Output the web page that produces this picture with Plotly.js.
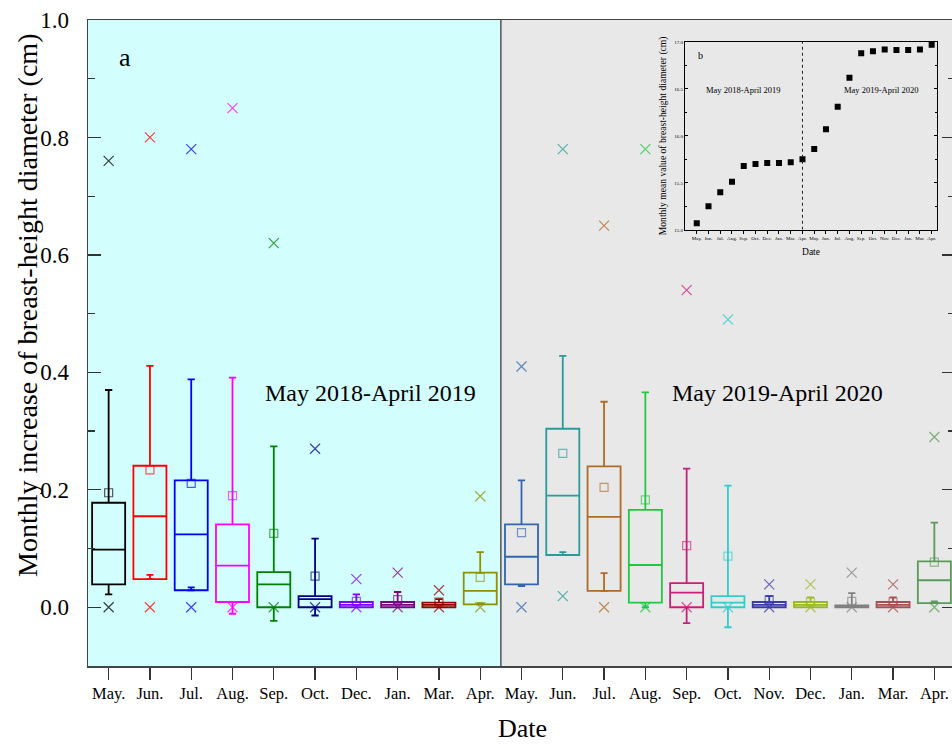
<!DOCTYPE html>
<html>
<head>
<meta charset="utf-8">
<script src="https://cdn.plot.ly/plotly-3.0.1.min.js"></script>
<style>
html, body { margin: 0; padding: 0; overflow: hidden; background: #fff; }
#chart { width: 960px; height: 746px; }
</style>
</head>
<body>
<div id="chart"></div>
<script>
// ---- data ----
var labels = ['May.','Jun.','Jul.','Aug.','Sep.','Oct.','Dec.','Jan.','Mar.','Apr.',
              'May.','Jun.','Jul.','Aug.','Sep.','Oct.','Nov.','Dec.','Jan.','Mar.','Apr.'];
var q1Vals     = [0.039,0.048,0.029,0.009,0.000,0.000,0.000,0.000,0.000,0.005,
                  0.039,0.089,0.028,0.008,0.000,0.000,0.000,0.000,0.000,0.000,0.007];
var medianVals = [0.098,0.155,0.124,0.071,0.039,0.014,0.004,0.004,0.004,0.028,
                  0.086,0.190,0.154,0.072,0.025,0.008,0.004,0.004,0.001,0.004,0.046];
var q3Vals     = [0.178,0.241,0.216,0.141,0.060,0.019,0.009,0.009,0.008,0.059,
                  0.141,0.304,0.240,0.166,0.041,0.019,0.009,0.009,0.003,0.009,0.078];
var lowerWhisker = [0.022,0.055,0.034,-0.011,-0.023,-0.014,0.000,0.000,0.000,0.007,
                    0.036,0.094,0.058,0.000,-0.027,-0.034,0.000,0.000,0.000,0.000,0.010];
var upperWhisker = [0.370,0.411,0.388,0.391,0.274,0.117,0.022,0.026,0.014,0.094,
                    0.216,0.428,0.350,0.366,0.236,0.207,0.019,0.017,0.024,0.017,0.144];
var meanVals   = [0.195,0.234,0.211,0.190,0.126,0.053,0.010,0.013,0.009,0.051,
                  0.127,0.262,0.204,0.183,0.105,0.087,0.013,0.009,0.010,0.009,0.077];
var maxVals    = [0.76,0.80,0.78,0.85,0.62,0.27,0.048,0.059,0.029,0.189,
                  0.41,0.78,0.65,0.78,0.54,0.49,0.039,0.039,0.059,0.039,0.29];
var minVals    = [0,0,0,0,0,0,0,0,0,0,
                  0,0.019,0,0,0,0,0,0,0,0,0];
var boxColors  = ['#000000','#ff0000','#0000ff','#ff00ff','#008000','#000080','#8000ff','#800080','#990000','#8f8f00',
                  '#3366aa','#2a9a9a','#b06a28','#20c840','#c8207a','#33cccc','#3a3aa8','#9ab820','#808080','#a85050','#5a9a5a'];
// inset (b): monthly mean value of breast-height diameter (cm)
var insetMeans = [15.07,15.25,15.40,15.51,15.68,15.70,15.71,15.71,15.72,15.75,
                  15.86,16.07,16.31,16.62,16.88,16.90,16.92,16.915,16.915,16.92,16.97];

var positions = labels.map(function(_, i){ return i; });
var serif = '"Liberation Serif", "Times New Roman", "DejaVu Serif", serif';

var traces = [];
positions.forEach(function(p, i){
  var lwInside = lowerWhisker[i] > q1Vals[i];
  traces.push({
    type: 'box', x: [p],
    q1: [q1Vals[i]], median: [medianVals[i]], q3: [q3Vals[i]],
    lowerfence: [lwInside ? q1Vals[i] : lowerWhisker[i]], upperfence: [upperWhisker[i]],
    width: 0.8, whiskerwidth: 0.22,
    line: {color: boxColors[i], width: 1.8},
    fillcolor: 'rgba(0,0,0,0)',
    boxpoints: false, showlegend: false, hoverinfo: 'skip',
    xaxis: 'x', yaxis: 'y'
  });
  if (lwInside) {
    // Origin-style lower whisker that ends inside the box (above Q1)
    traces.push({
      type: 'scatter', mode: 'markers', x: [p], y: [lowerWhisker[i]],
      marker: {size: 1, opacity: 0},
      error_y: {type: 'data', symmetric: false, array: [0], arrayminus: [lowerWhisker[i] - q1Vals[i]],
                color: boxColors[i], thickness: 1.8, width: 3.5},
      showlegend: false, hoverinfo: 'skip', xaxis: 'x', yaxis: 'y'
    });
  }
});
traces.push({
  type: 'scatter', mode: 'markers', x: positions, y: meanVals,
  marker: {symbol: 'square-open', size: 8, color: boxColors, opacity: 0.65, line: {width: 1.2}},
  showlegend: false, hoverinfo: 'skip', xaxis: 'x', yaxis: 'y'
});
traces.push({
  type: 'scatter', mode: 'markers', x: positions, y: maxVals,
  marker: {symbol: 'x-thin-open', size: 10, color: boxColors, opacity: 0.75, line: {width: 1.2}},
  showlegend: false, hoverinfo: 'skip', xaxis: 'x', yaxis: 'y'
});
traces.push({
  type: 'scatter', mode: 'markers', x: positions, y: minVals,
  marker: {symbol: 'x-thin-open', size: 10, color: boxColors, opacity: 0.75, line: {width: 1.2}},
  showlegend: false, hoverinfo: 'skip', xaxis: 'x', yaxis: 'y'
});
traces.push({
  type: 'scatter', mode: 'markers', x: positions, y: insetMeans,
  marker: {symbol: 'square', size: 6, color: '#000'},
  showlegend: false, hoverinfo: 'skip', xaxis: 'x2', yaxis: 'y2'
});

var layout = {
  width: 960, height: 746,
  margin: {l: 88, r: 5, t: 20, b: 80},
  paper_bgcolor: '#ffffff', plot_bgcolor: 'rgba(0,0,0,0)',
  font: {family: serif, color: '#000'},
  showlegend: false,
  xaxis: {
    range: [-0.5, 20.5], tickvals: positions, ticktext: labels,
    ticks: 'outside', ticklen: 12, tickwidth: 1.2, tickcolor: '#333',
    showline: true, linecolor: '#444', linewidth: 1.5, mirror: true,
    showgrid: false, zeroline: false,
    tickfont: {family: serif, size: 16.5, color: '#000'}
  },
  xaxis3: {
    overlaying: 'x', side: 'top', anchor: 'y',
    range: [-0.5, 20.5], tickvals: positions,
    ticks: 'inside', ticklen: 12, tickwidth: 1.2, tickcolor: '#333',
    showticklabels: false, showline: false, showgrid: false, zeroline: false
  },
  yaxis: {
    range: [-0.1, 1.0], tick0: 0, dtick: 0.2, tickformat: '.1f',
    ticks: 'inside', ticklen: 13, tickwidth: 1.2, tickcolor: '#333',
    minor: {dtick: 0.1, tick0: 0, ticks: 'inside', ticklen: 7, tickwidth: 1.2, tickcolor: '#333'},
    showline: true, linecolor: '#444', linewidth: 1.5, mirror: 'ticks',
    showgrid: false, zeroline: false, ticklabelstandoff: 13,
    tickfont: {family: serif, size: 23, color: '#000'}
  },
  xaxis2: {
    domain: [0.6886, 0.9792], anchor: 'y2',
    range: [-1, 20.45], tickvals: positions, ticktext: labels,
    ticks: 'outside', ticklen: 3, tickwidth: 1, tickcolor: '#000',
    showline: true, linecolor: '#000', linewidth: 1, mirror: true,
    showgrid: false, zeroline: false, tickangle: 0,
    tickfont: {family: serif, size: 5, color: '#000'},
    title: {text: 'Date', font: {family: serif, size: 9.5, color: '#000'}, standoff: 8}
  },
  yaxis2: {
    domain: [0.6753, 0.966], anchor: 'x2',
    range: [15, 17], tick0: 15, dtick: 0.5, tickformat: '.1f',
    ticks: 'inside', ticklen: 3, tickwidth: 1, tickcolor: '#000',
    minor: {dtick: 0.25, tick0: 15, ticks: 'inside', ticklen: 2, tickcolor: '#000'},
    showline: true, linecolor: '#000', linewidth: 1, mirror: 'ticks',
    showgrid: false, zeroline: false,
    tickfont: {family: serif, size: 5, color: '#000'},
    title: {text: 'Monthly mean value of breast-height diameter (cm)', font: {family: serif, size: 9.6, color: '#000'}, standoff: 5}
  },
  shapes: [
    {type: 'rect', xref: 'x', yref: 'paper', x0: -0.5, x1: 9.5, y0: 0, y1: 1,
     fillcolor: '#d3fefe', line: {width: 0}, layer: 'below'},
    {type: 'rect', xref: 'x', yref: 'paper', x0: 9.5, x1: 20.5, y0: 0, y1: 1,
     fillcolor: '#e8e8e8', line: {width: 0}, layer: 'below'},
    {type: 'line', xref: 'x', yref: 'paper', x0: 9.5, x1: 9.5, y0: 0, y1: 1,
     line: {color: '#555', width: 1.5}},
    {type: 'line', xref: 'x2', yref: 'y2', x0: 9, x1: 9, y0: 15, y1: 17,
     line: {color: '#222', width: 1, dash: 'dot'}}
  ],
  annotations: [
    {text: 'a', xref: 'paper', yref: 'paper', x: 0.0427, y: 0.9427, showarrow: false,
     font: {family: serif, size: 26, color: '#000'}, xanchor: 'center', yanchor: 'middle'},
    {text: 'May 2018-April 2019', xref: 'paper', yref: 'paper', x: 0.3253, y: 0.4226, showarrow: false,
     font: {family: serif, size: 24, color: '#000'}, xanchor: 'center', yanchor: 'middle'},
    {text: 'May 2019-April 2020', xref: 'paper', yref: 'paper', x: 0.7947, y: 0.4226, showarrow: false,
     font: {family: serif, size: 24, color: '#000'}, xanchor: 'center', yanchor: 'middle'},
    {text: 'Monthly increase of breast-height diameter (cm)', xref: 'paper', yref: 'paper',
     x: -0.0692, y: 0.5573, textangle: -90, showarrow: false,
     font: {family: serif, size: 28, color: '#000'}, xanchor: 'center', yanchor: 'middle'},
    {text: 'Date', xref: 'paper', yref: 'paper', x: 0.5017, y: -0.0975, showarrow: false,
     font: {family: serif, size: 26, color: '#000'}, xanchor: 'center', yanchor: 'middle'},
    {text: 'b', xref: 'paper', yref: 'paper', x: 0.7059, y: 0.9443, showarrow: false,
     font: {family: serif, size: 10, color: '#000'}, xanchor: 'center', yanchor: 'middle'},
    {text: 'May 2018-April 2019', xref: 'paper', yref: 'paper', x: 0.7555, y: 0.8916, showarrow: false,
     font: {family: serif, size: 8.5, color: '#000'}, xanchor: 'center', yanchor: 'middle'},
    {text: 'May 2019-April 2020', xref: 'paper', yref: 'paper', x: 0.9158, y: 0.8916, showarrow: false,
     font: {family: serif, size: 8.5, color: '#000'}, xanchor: 'center', yanchor: 'middle'}
  ]
};

Plotly.newPlot('chart', traces, layout, {staticPlot: true, displayModeBar: false});
</script>
</body>
</html>
